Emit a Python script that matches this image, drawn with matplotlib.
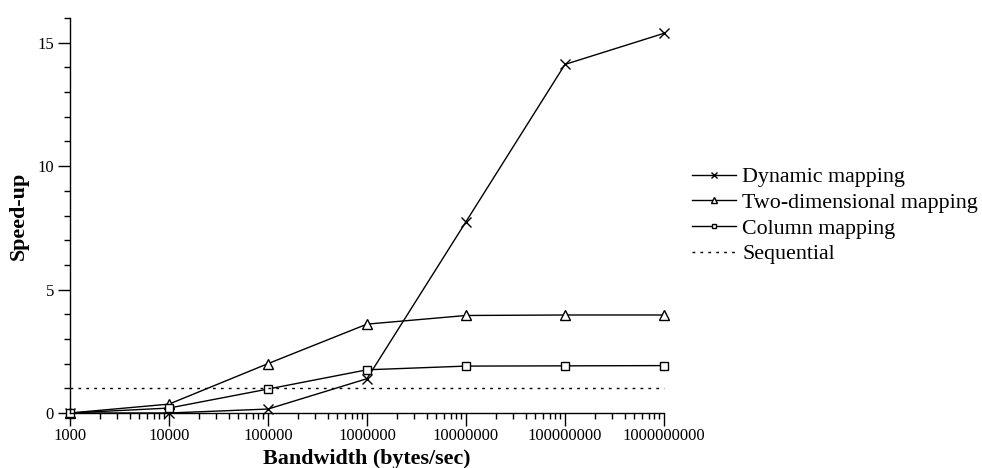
import matplotlib
matplotlib.use("Agg")
import matplotlib.pyplot as plt
from matplotlib.ticker import LogLocator, NullFormatter, FixedLocator, MultipleLocator

plt.rcParams['font.family'] = ['Liberation Serif', 'DejaVu Serif']

bandwidth = [1e3, 1e4, 1e5, 1e6, 1e7, 1e8, 1e9]
x_tick_labels = ["1000", "10000", "100000", "1000000", "10000000", "100000000", "1000000000"]
dynamic = [0.0, 0.0, 0.16, 1.39, 7.75, 14.12, 15.38]
two_dim = [0.0, 0.36, 2.0, 3.6, 3.95, 3.97, 3.97]
column = [0.0, 0.2, 0.97, 1.75, 1.9, 1.91, 1.92]
sequential = [1.0] * len(bandwidth)

fig = plt.figure(figsize=(9.82, 4.68), dpi=100)
ax = fig.add_axes([70/982, 1-413/468, (664-70)/982, (413-18)/468])

lw = 1.0
ax.plot(bandwidth, dynamic, color='black', lw=lw, marker='x', ms=7, mew=1.0,
        label='Dynamic mapping', clip_on=False)
ax.plot(bandwidth, two_dim, color='black', lw=lw, marker='^', ms=7, mew=1.0,
        mfc='white', label='Two-dimensional mapping', clip_on=False)
ax.plot(bandwidth, column, color='black', lw=lw, marker='s', ms=6, mew=1.0,
        mfc='white', label='Column mapping', clip_on=False)
ax.plot(bandwidth, sequential, color='black', lw=1.0, ls=(0, (2, 3.7)),
        label='Sequential', clip_on=False)

ax.set_xscale('log')
ax.set_xlim(1e3, 1e9)
ax.set_ylim(0, 16)
ax.set_xticks(bandwidth)
ax.set_xticklabels(x_tick_labels)
ax.xaxis.set_minor_locator(LogLocator(base=10, subs=range(2, 10), numticks=20))
ax.xaxis.set_minor_formatter(NullFormatter())
ax.yaxis.set_major_locator(FixedLocator([0, 5, 10, 15]))
ax.yaxis.set_minor_locator(MultipleLocator(1))

for s in ['top', 'right']:
    ax.spines[s].set_visible(False)
for s in ['left', 'bottom']:
    ax.spines[s].set_linewidth(1.0)

ax.tick_params(which='major', direction='out', length=9, width=1.0, labelsize=12)
ax.tick_params(axis='x', which='major', pad=1.5)
ax.tick_params(axis='y', which='major', pad=2.5)
ax.tick_params(which='minor', direction='out', length=4, width=1.0)

ax.set_xlabel('Bandwidth (bytes/sec)', fontsize=15.8, fontweight='bold')
ax.set_ylabel('Speed-up', fontsize=15.8, fontweight='bold')
ax.xaxis.set_label_coords(0.5, (413-449)/395)
ax.yaxis.set_label_coords((29-70)/594, 0.5)

leg = ax.legend(loc='upper left', bbox_to_anchor=(692/982, 1-167/468),
                bbox_transform=fig.transFigure, frameon=False, fontsize=15.8,
                handlelength=2.0, handletextpad=0.28, labelspacing=0.24,
                markerscale=0.55, borderpad=0, borderaxespad=0)

fig.savefig('out.png', dpi=100)
